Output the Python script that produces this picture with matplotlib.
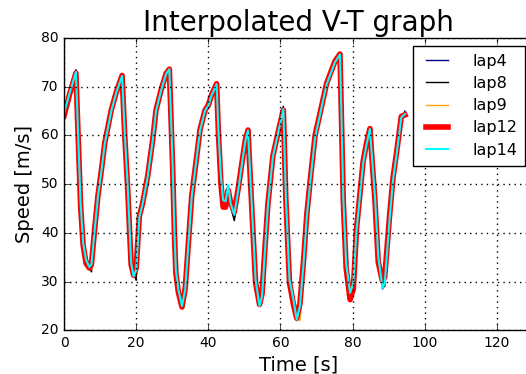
import matplotlib
matplotlib.use("Agg")
import matplotlib.pyplot as plt

# common (interpolated) time base [s]
time_s = [0, 1.6, 3.3, 4.6, 5.3, 6.1, 7.0, 7.6, 8.5, 9.4,
          10.4, 11.3, 13.1, 14.5, 16.1, 16.8, 17.7, 18.2, 18.6, 19.3,
          20.0, 20.9, 21.8, 23.2, 24.6, 25.5, 26.9, 28.3, 29.2, 30.1,
          30.6, 31.0, 31.7, 32.7, 33.6, 34.5, 35.4, 36.8, 37.7, 39.1,
          40.0, 40.9, 42.3, 42.8, 43.5, 44.1, 44.8, 45.5, 46.2, 47.2,
          48.3, 49.6, 50.3, 51.0, 51.7, 52.4, 53.1, 54.2, 54.9, 55.6,
          56.5, 57.9, 59.7, 60.8, 61.5, 62.5, 63.6, 64.5, 65.4, 66.4,
          67.3, 68.2, 69.6, 71.4, 72.8, 75.1, 76.5, 77.0, 77.4, 78.2,
          79.3, 80.2, 81.1, 82.0, 82.9, 83.9, 84.8, 85.5, 86.2, 87.1,
          88.3, 88.9, 90.3, 91.2, 92.2, 93.5, 94.5]

# speed [m/s] per lap
lap4 = [64.8, 69, 73.5, 47, 39, 35, 33.3, 33, 39.5, 46.5,
        52.3, 58, 64.8, 68.6, 72.3, 62, 50, 42, 35, 31.3,
        31.8, 42.5, 45.7, 51, 58.5, 64.6, 69, 72.4, 73.8, 55.5,
        42, 33.5, 29, 25.2, 28, 37, 46.5, 55, 60.6, 64.8,
        66, 68, 70.6, 62, 52.5, 47.5, 47, 49.5, 45.8, 43.2,
        48, 55, 58.6, 61.2, 52, 42, 31.5, 25.2, 26.5, 34.3,
        44.3, 55, 61.5, 66, 48.5, 31.5, 27, 22.3, 24.5, 32.8,
        42.5, 49.5, 59, 65.5, 70.3, 74.8, 76.8, 62, 48.5, 35,
        28, 29.3, 39.7, 46.8, 53.7, 58, 61.3, 55, 48.5, 36.5,
        28.5, 29.3, 42.5, 50, 55.8, 63.5, 65]
lap8 = [64.8, 69, 73.1, 47.5, 39.5, 35.5, 33, 32, 38.5, 46,
        52, 57.8, 64.7, 68.5, 72, 62.5, 50.5, 42.5, 35.5, 31.5,
        30.3, 41.5, 45.5, 50.8, 58.3, 64.5, 69, 72.4, 73.6, 55.5,
        42, 33.5, 29, 25.3, 27.5, 36.5, 46, 54.8, 60.5, 64.8,
        66, 68, 70.5, 62, 52.5, 47.5, 47.2, 49.3, 45.3, 42.5,
        47.3, 54.8, 58.5, 61, 52, 42, 31.5, 25.3, 26.2, 34,
        44, 55, 61.5, 65.5, 48.5, 31.5, 27, 22, 23.8, 32.3,
        42, 49.3, 58.8, 65.3, 70.2, 74.8, 76.6, 62, 48.5, 35,
        28.2, 29.2, 39.5, 46.7, 53.5, 58, 61.2, 55, 48.5, 36.5,
        29, 29, 42.3, 50, 55.8, 63.3, 64.6]
lap9 = [64.6, 68.8, 72.8, 46.5, 38.5, 34.5, 32.5, 32.5, 39.8, 47,
        52.5, 58, 64.8, 68.6, 72.1, 61.5, 49.5, 41.5, 34.5, 31.2,
        32, 42.8, 45.8, 51.2, 58.7, 64.7, 69, 72.5, 73.6, 55,
        41.5, 33, 28.8, 25.2, 28, 37.3, 47, 55.2, 60.8, 65,
        66, 68.1, 70.5, 61.5, 52, 47.2, 46.8, 49.5, 46.2, 44.5,
        47.5, 54.5, 58.3, 61, 51.5, 41.5, 31, 25.2, 26.8, 34.5,
        44.5, 55.2, 61.5, 65.3, 48, 31, 26.8, 22.5, 22, 31,
        41, 48.5, 58.5, 65.2, 70, 74.5, 76.6, 61.8, 48, 34.5,
        28, 29.5, 40, 47, 54, 58.2, 61.3, 55, 48, 36,
        29, 29.5, 42.8, 50.5, 56, 63.5, 64.4]
lap12 = [64, 68.6, 72.8, 45.5, 37.5, 33.8, 32.8, 33.5, 40.8, 47.6,
         53.1, 58.5, 65.2, 68.9, 72.3, 60.5, 48.3, 40, 33.5, 31.3,
         32.8, 43.5, 46.1, 51.7, 59.2, 65.2, 69.3, 72.7, 73.6, 53.8,
         40, 31.8, 27.8, 24.8, 28.6, 38.2, 47.6, 55.8, 61.2, 65.2,
         66.2, 68.3, 70.6, 60.5, 50, 45.3, 45.3, 48.8, 46.2, 44.3,
         49.2, 55.8, 59.2, 61.1, 50.2, 40, 29.8, 25.3, 27.5, 35.8,
         45.8, 55.8, 61.8, 65.2, 46.8, 29.8, 25.3, 22.5, 25.5, 34.3,
         43.8, 50.5, 60, 66, 70.7, 75.2, 76.7, 60.5, 46.8, 32.8,
         26.3, 28.5, 41, 47.8, 54.6, 58.6, 61.4, 53.8, 46.5, 34,
         30, 31, 44, 51.3, 56.6, 63.9, 64.2]
lap14 = [64.5, 68.8, 73.0, 46, 38, 34.5, 33, 33.5, 40.6, 47.4,
         52.9, 58.3, 65, 68.8, 72.2, 61, 48.8, 40.6, 33.9, 31.1,
         32.4, 43.3, 46, 51.5, 59, 65, 69.2, 72.6, 73.6, 54.2,
         40.6, 32.4, 28.4, 25, 28.4, 37.9, 47.4, 55.6, 61, 65.1,
         66.1, 68.2, 70.5, 61, 51.5, 46.7, 46.5, 49.8, 46, 43.7,
         48.8, 55.6, 59, 61, 50.8, 40.6, 30.4, 25, 27, 35.2,
         45.4, 55.6, 61.7, 65.4, 47.4, 30.4, 26.3, 22.2, 25, 33.8,
         43.3, 50.1, 59.6, 65.8, 70.5, 75, 76.6, 61, 47.4, 33.8,
         27.7, 29.7, 40.6, 47.4, 54.2, 58.3, 61.3, 54.2, 47.4, 35.2,
         28.7, 29.7, 43.3, 50.8, 56.2, 63.7, 64.4]

plt.style.use("classic")
plt.rcParams["font.family"] = "DejaVu Sans"

fig = plt.figure(figsize=(5.26, 3.74), dpi=100, facecolor="white")
# right spine sits just past the picture edge (the original is cropped there)
ax = fig.add_axes([0.1217, 0.1166, 0.8916, 0.782])

ax.plot(time_s, lap4, color="darkblue", lw=1, label="lap4")
ax.plot(time_s, lap8, color="black", lw=1, label="lap8")
ax.plot(time_s, lap9, color="orange", lw=1, label="lap9")
ax.plot(time_s, lap12, color="red", lw=4, label="lap12")
ax.plot(time_s, lap14, color="cyan", lw=1.5, label="lap14")

ax.set_xlim(0, 130)
ax.set_ylim(20, 80)
ax.set_xticks(range(0, 121, 20))
ax.set_yticks(range(20, 81, 10))
ax.tick_params(labelsize=10)
ax.grid(True, color="black", linestyle=":", linewidth=1)

ax.set_title("Interpolated V-T graph", fontsize=20)
ax.set_xlabel("Time [s]", fontsize=14, labelpad=4)
ax.set_ylabel("Speed [m/s]", fontsize=14)

ax.legend(loc="upper right", fontsize=11.5, handlelength=2, handletextpad=1.2,
          labelspacing=0.45, borderpad=0.5, fancybox=False)

fig.savefig("out.png", dpi=100, facecolor="white")
